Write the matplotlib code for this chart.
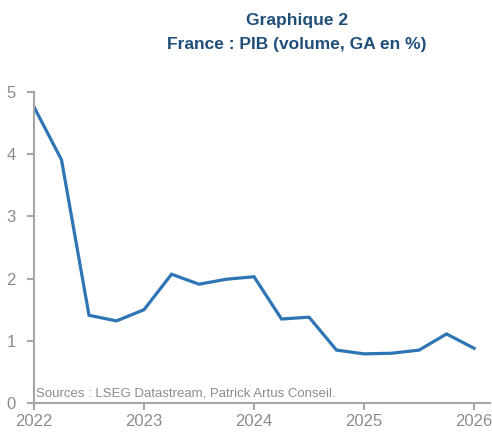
import matplotlib.pyplot as plt
from matplotlib import font_manager

# quarterly GDP growth, y/y %
dates = [2022.0, 2022.25, 2022.5, 2022.75, 2023.0, 2023.25, 2023.5, 2023.75,
         2024.0, 2024.25, 2024.5, 2024.75, 2025.0, 2025.25, 2025.5, 2025.75,
         2026.0]
pib = [4.76, 3.91, 1.41, 1.32, 1.50, 2.07, 1.91, 1.99,
       2.03, 1.35, 1.38, 0.85, 0.79, 0.80, 0.85, 1.11, 0.88]
years = [2022, 2023, 2024, 2025, 2026]

names = {f.name for f in font_manager.fontManager.ttflist}
font = 'Liberation Sans Narrow' if 'Liberation Sans Narrow' in names else 'Liberation Sans'
plt.rcParams['font.family'] = [font, 'DejaVu Sans']

grey = '#8c8c8c'
fig = plt.figure(figsize=(4.92, 4.32), dpi=100)
ax = fig.add_axes([34 / 492, 29 / 432, 456 / 492, 311 / 432])

ax.plot(dates, pib, color='#2e75b6', lw=2.3, solid_joinstyle='miter')
ax.set_xlim(2022, 2026.145)
ax.set_ylim(0, 5)
ax.set_xticks(years)
ax.set_yticks(range(6))

for s in ['top', 'right']:
    ax.spines[s].set_visible(False)
for s in ['left', 'bottom']:
    ax.spines[s].set_color('#a6a6a6')
    ax.spines[s].set_linewidth(1.5)
ax.tick_params(axis='both', colors='#a6a6a6', labelcolor=grey, labelsize=12,
               width=1.5, length=5)
ax.tick_params(axis='y', pad=8)
ax.tick_params(axis='x', pad=3)

ax.text(2022.02, 0.1, 'Sources : LSEG Datastream, Patrick Artus Conseil.',
        color=grey, fontsize=9.5)

fig.text(297 / 492, 1 - 20 / 432, 'Graphique 2', ha='center', va='center',
         color='#1f4e79', fontsize=12.5, fontweight='bold')
fig.text(297 / 492, 1 - 45 / 432, 'France : PIB (volume, GA en %)', ha='center',
         va='center', color='#1f4e79', fontsize=12.5, fontweight='bold')

fig.savefig('out.png', dpi=100)
